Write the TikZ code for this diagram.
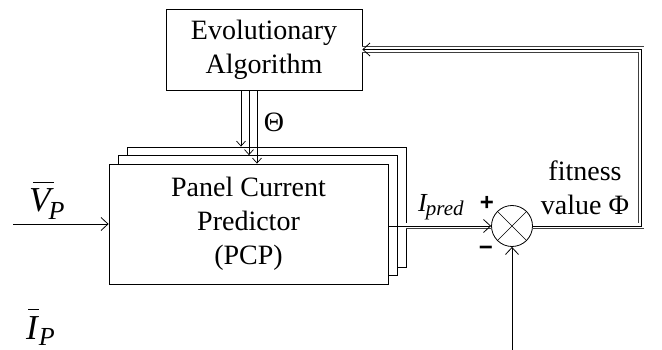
\documentclass[tikz,border=0pt]{standalone}
\usepackage{fontspec}
\setmainfont{Liberation Serif}
\setsansfont{Liberation Sans}
\usetikzlibrary{arrows.meta}
\newcommand{\subit}[3]{\raisebox{-#1}{\fontsize{#2}{#2}\selectfont\itshape #3}}
\newcommand{\barit}[3]{\rlap{\kern#2\rule[29pt]{#3}{1.3pt}}{\itshape #1}}
\begin{document}
\begin{tikzpicture}[x=1pt,y=-1pt,
  blk/.style={draw, line width=0.8pt, fill=white, inner sep=0pt, align=center,
    font=\fontsize{28}{34}\selectfont},
  pcp/.style={blk, minimum width=279pt, minimum height=120pt},
  lbl/.style={inner sep=0pt, font=\fontsize{28}{34}\selectfont},
  big/.style={inner sep=0pt, anchor=base west, font=\fontsize{35}{35}\selectfont},
  sgn/.style={inner sep=0pt, font=\sffamily\bfseries\fontsize{24}{24}\selectfont},
  ar/.style={-{Straight Barb[length=7pt,width=13pt,line width=0.8pt]}, line width=0.8pt},
  sar/.style={-{Straight Barb[length=5pt,width=9pt,line width=0.7pt]}, line width=0.7pt},
  trip/.style={double distance=5pt, line width=0.8pt, draw=black!75},
]
\useasboundingbox (0,0) rectangle (662,350);

\node[blk, minimum width=196pt, minimum height=81pt] (ea) at (264,49.5) {Evolutionary\\Algorithm};
\node[pcp] (p3) at (266.5,207) {};
\node[pcp] (p2) at (257.5,215.5) {};
\node[pcp] (p1) at (248.5,224) {Panel Current\\Predictor\\(PCP)};

\node[draw, circle, minimum size=41pt, inner sep=0pt, line width=0.8pt] (s) at (512,226) {};
\draw[line width=0.7pt] (s.north west) -- (s.south east) (s.north east) -- (s.south west);

% parameters
\coordinate (x1) at (241,0);
\coordinate (x2) at (249,0);
\coordinate (x3) at (257,0);
\draw[sar] (ea.south -| x1) -- (p3.north -| x1);
\draw[sar] (ea.south -| x2) -- (p2.north -| x2);
\draw[sar] (ea.south -| x3) -- (p1.north -| x3);
\node[lbl] (theta) at (274,122) {Θ};

% input
\coordinate (vin) at (13,224);
\draw[ar] (vin) -- (p1.west);
\node[big] (vp) at (29,212) {\barit{V}{4pt}{21pt}\kern-2pt\subit{8pt}{26}{P}};
\node[big] (ip) at (26,339) {\barit{I}{2pt}{11pt}\kern1pt\subit{6pt}{26}{P}};

% output
\draw[line width=0.8pt] (p1.east |- s.west) -- (p3.east |- s.west);
\draw[trip] (p3.east |- s.west) -- (s.west);
\draw[ar] (p3.east |- s.west) -- (s.west);
\node[inner sep=0pt, anchor=base west, font=\fontsize{26}{26}\selectfont] (ipred) at (418,212)
  {\itshape I\kern-1pt\subit{4pt}{21}{pred}};
\node[sgn] (plus) at (487,203) {+};
\node[sgn] (minus) at (486,251) {−};

% feedback
\coordinate (c1) at (641,0);
\draw[trip] (s.east) -- (s.east -| c1) -- (c1 |- ea.east) -- (ea.east);
\draw[ar] (s.east) -- (s.east -| c1) -- (c1 |- ea.east) -- (ea.east);
\node[lbl, align=center] (fit) at (585,188) {fitness\\value Φ};

% measured current
\coordinate (bin) at (512,350);
\draw[ar] (bin) -- (s.south);
\end{tikzpicture}
\end{document}
